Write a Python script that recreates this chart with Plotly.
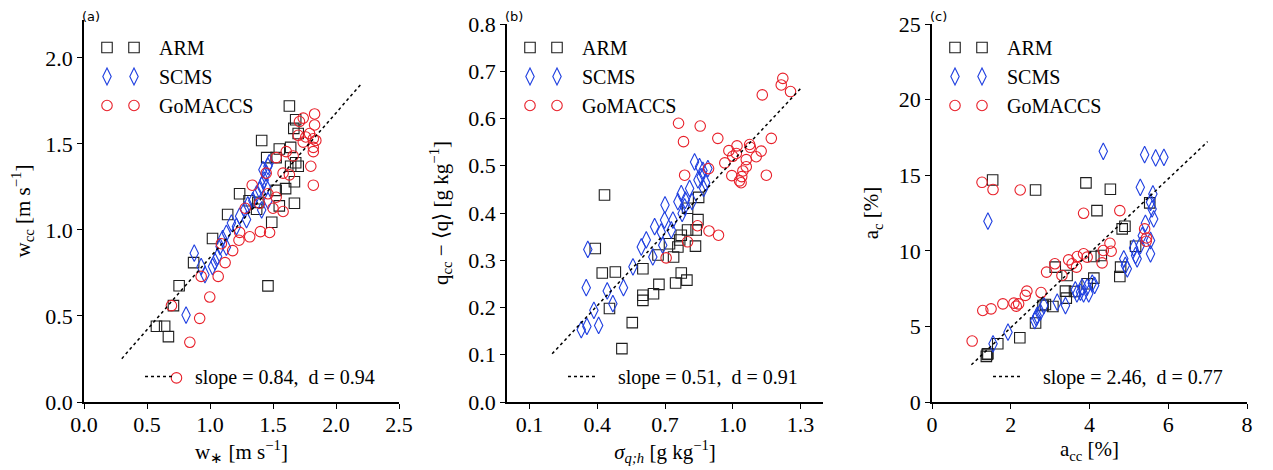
import plotly.graph_objects as go

# ---------------- Panel (a) data ----------------
a_arm_x = [1.63, 1.68, 1.665, 1.70, 1.41, 1.64, 1.55, 1.45, 1.525, 1.68, 1.70, 1.64, 1.235, 1.67, 1.60,
           1.525, 1.31, 1.38, 1.67, 1.55, 1.37, 1.14, 1.49, 1.02, 0.87, 1.46, 0.755, 0.71, 0.575, 0.64, 0.67]
a_arm_y = [1.72, 1.64, 1.59, 1.56, 1.52, 1.48, 1.47, 1.42, 1.42, 1.39, 1.37, 1.37, 1.21, 1.28, 1.24,
           1.23, 1.17, 1.16, 1.155, 1.14, 1.12, 1.09, 1.045, 0.95, 0.81, 0.675, 0.676, 0.56, 0.44, 0.44, 0.38]
a_scms_x = [0.875, 0.81, 0.93, 0.96, 1.02, 1.04, 1.08, 1.10, 1.13, 1.17, 1.21, 1.235, 1.275, 1.30, 1.34,
            1.37, 1.394, 1.41, 1.43, 1.446, 1.46, 1.47, 1.42, 1.446, 1.41, 1.46, 1.29, 1.13, 1.06]
a_scms_y = [0.865, 0.505, 0.787, 0.74, 0.787, 0.816, 0.903, 0.95, 0.98, 1.04, 1.02, 1.08, 1.116, 1.145, 1.17,
            1.21, 1.23, 1.26, 1.29, 1.33, 1.37, 1.39, 1.35, 1.25, 1.116, 1.17, 1.06, 0.90, 0.845]
a_gom_x = [1.83, 1.74, 1.71, 1.83, 1.79, 1.76, 1.70, 1.82, 1.84, 1.74, 1.82, 1.82, 1.605, 1.525, 1.80,
           1.66, 1.446, 1.58, 1.63, 1.82, 1.335, 1.525, 1.46, 1.28, 1.50, 1.58, 1.393, 1.473, 1.40, 1.315,
           1.235, 1.23, 1.09, 1.18, 1.12, 1.065, 0.93, 0.998, 0.694, 0.918, 0.84, 0.734]
a_gom_y = [1.674, 1.65, 1.63, 1.61, 1.56, 1.54, 1.55, 1.53, 1.52, 1.51, 1.48, 1.455, 1.455, 1.42, 1.37,
           1.43, 1.33, 1.33, 1.32, 1.26, 1.26, 1.19, 1.21, 1.126, 1.126, 1.107, 1.155, 0.985, 0.99, 0.96,
           0.986, 0.94, 0.92, 0.88, 0.81, 0.73, 0.73, 0.61, 0.56, 0.486, 0.347, 0.14]

# ---------------- Panel (b) data ----------------
b_arm_x = [0.432, 0.391, 0.422, 0.48, 0.602, 0.454, 0.555, 0.509, 0.602, 0.602, 0.649, 0.673, 0.669, 0.738,
           0.72, 0.757, 0.772, 0.80, 0.838, 0.835, 0.846, 0.747, 0.772, 0.797, 0.80, 0.849, 0.765]
b_arm_y = [0.438, 0.325, 0.273, 0.275, 0.282, 0.198, 0.168, 0.113, 0.226, 0.215, 0.229, 0.249, 0.311, 0.307,
           0.335, 0.328, 0.353, 0.364, 0.364, 0.33, 0.386, 0.252, 0.273, 0.258, 0.41, 0.433, 0.343]
b_scms_x = [0.831, 0.853, 0.89, 0.86, 0.88, 0.846, 0.809, 0.772, 0.871, 0.70, 0.757, 0.79, 0.82, 0.776, 0.735,
            0.698, 0.654, 0.683, 0.728, 0.617, 0.595, 0.69, 0.646, 0.558, 0.358, 0.351, 0.444, 0.516, 0.469,
            0.385, 0.406, 0.354, 0.329, 0.787, 0.868]
b_scms_y = [0.508, 0.498, 0.494, 0.477, 0.464, 0.47, 0.452, 0.441, 0.452, 0.417, 0.424, 0.427, 0.424, 0.399,
            0.385, 0.385, 0.371, 0.36, 0.364, 0.343, 0.328, 0.332, 0.307, 0.286, 0.323, 0.242, 0.235, 0.242,
            0.208, 0.194, 0.162, 0.16, 0.153, 0.413, 0.49]
b_gom_x = [1.222, 1.215, 1.256, 1.131, 0.76, 0.856, 0.782, 0.934, 1.171, 1.019, 1.075, 1.078, 0.983, 1.126,
           1.016, 1.00, 1.06, 1.104, 0.965, 1.06, 1.045, 0.996, 1.04, 1.03, 1.037, 1.149, 0.787, 0.893, 0.844,
           0.895, 0.937, 0.80, 0.705]
b_gom_y = [0.685, 0.671, 0.657, 0.65, 0.59, 0.584, 0.551, 0.558, 0.558, 0.542, 0.545, 0.539, 0.532, 0.531,
           0.526, 0.52, 0.513, 0.519, 0.506, 0.498, 0.489, 0.479, 0.477, 0.468, 0.464, 0.48, 0.48, 0.494,
           0.373, 0.362, 0.353, 0.339, 0.305]

# ---------------- Panel (c) data ----------------
c_arm_x = [1.54, 2.63, 3.91, 4.53, 4.19, 5.53, 4.90, 4.83, 5.17, 4.30, 4.11, 3.13, 3.43, 4.79, 4.77, 4.11,
           3.94, 3.39, 3.62, 3.41, 3.07, 2.88, 2.82, 2.63, 2.23, 1.67, 1.40, 1.38, 1.42]
c_arm_y = [14.68, 14.02, 14.49, 14.07, 12.66, 13.17, 11.62, 11.45, 10.30, 9.69, 9.62, 8.92, 8.37, 8.92, 8.30,
           8.19, 7.82, 7.33, 7.31, 6.87, 6.32, 6.45, 6.38, 5.22, 4.25, 3.85, 3.15, 3.02, 3.19]
c_scms_x = [4.35, 5.40, 5.68, 5.89, 5.29, 5.61, 5.55, 5.59, 1.42, 5.63, 5.42, 5.34, 5.55, 5.29, 5.55, 5.12,
            5.17, 5.21, 4.87, 4.91, 4.96, 4.13, 4.07, 3.94, 3.81, 3.77, 3.68, 3.64, 3.85, 3.98, 3.39, 3.18,
            2.84, 2.75, 2.67, 2.61, 2.65, 1.93, 1.55]
c_scms_y = [16.58, 16.36, 16.14, 16.18, 14.2, 13.76, 13.21, 12.77, 11.96, 12.11, 11.82, 11.0, 10.68, 10.35,
            9.80, 10.19, 9.69, 9.47, 9.47, 9.03, 8.81, 7.71, 7.86, 7.60, 7.60, 7.27, 7.16, 7.42, 7.16, 7.16,
            6.38, 6.60, 6.38, 5.94, 5.72, 5.39, 5.57, 4.62, 3.85]
c_gom_x = [1.27, 1.55, 2.24, 3.85, 4.77, 5.40, 5.45, 5.44, 4.52, 4.55, 4.35, 4.32, 3.85, 3.69, 3.47, 3.56,
           3.67, 3.94, 3.12, 2.91, 3.30, 2.41, 2.37, 2.77, 2.08, 2.14, 2.20, 1.80, 1.50, 1.29, 1.02]
c_gom_y = [14.53, 14.05, 14.02, 12.48, 12.66, 11.45, 10.85, 10.63, 10.50, 9.97, 10.02, 9.20, 9.80, 9.62, 9.40,
           9.14, 8.92, 9.58, 9.14, 8.59, 8.37, 7.33, 7.05, 7.24, 6.54, 6.34, 6.49, 6.49, 6.16, 6.05, 4.03]

# ---------------- Fit lines (y = slope * x) ----------------
fit_slopes = [0.84, 0.51, 2.46]
fit_d = [0.94, 0.91, 0.77]
fit_x_ranges = [[0.3, 2.2], [0.2, 1.3], [1.0, 7.0]]

series_names = ["ARM", "SCMS", "GoMACCS"]
panel_labels = ["(a)", "(b)", "(c)"]

x_titles = ["w<sub>∗</sub> [m s<sup>−1</sup>]",
            "<i>σ<sub>q;h</sub></i> [g kg<sup>−1</sup>]",
            "a<sub>cc</sub> [%]"]
y_titles = ["w<sub>cc</sub> [m s<sup>−1</sup>]",
            "q<sub>cc</sub> − ⟨q⟩ [g kg<sup>−1</sup>]",
            "a<sub>c</sub> [%]"]
x_tickvals = [[0.0, 0.5, 1.0, 1.5, 2.0, 2.5], [0.1, 0.4, 0.7, 1.0, 1.3], [0, 2, 4, 6, 8]]
x_ticktext = [["0.0", "0.5", "1.0", "1.5", "2.0", "2.5"], ["0.1", "0.4", "0.7", "1.0", "1.3"],
              ["0", "2", "4", "6", "8"]]
y_tickvals = [[0.0, 0.5, 1.0, 1.5, 2.0], [0.0, 0.1, 0.2, 0.3, 0.4, 0.5, 0.6, 0.7, 0.8], [0, 5, 10, 15, 20, 25]]
y_ticktext = [["0.0", "0.5", "1.0", "1.5", "2.0"],
              ["0.0", "0.1", "0.2", "0.3", "0.4", "0.5", "0.6", "0.7", "0.8"],
              ["0", "5", "10", "15", "20", "25"]]
x_ranges = [[0, 2.5], [0, 1.4], [0, 8]]
y_ranges = [[0, 2.22], [0, 0.8], [0, 25]]

panels = [
    (a_arm_x, a_arm_y, a_scms_x, a_scms_y, a_gom_x, a_gom_y),
    (b_arm_x, b_arm_y, b_scms_x, b_scms_y, b_gom_x, b_gom_y),
    (c_arm_x, c_arm_y, c_scms_x, c_scms_y, c_gom_x, c_gom_y),
]

W, H = 1273, 470
OFF = 8  # page body margin offset (screen px)
FONT = "Liberation Serif"
NB = "\u00a0"


def fx_(px):
    return (px - OFF) / W


def fy_(py):
    return 1 - (py - OFF) / H


# screen-pixel layout of plot areas
x_px = [(84, 399), (507, 823), (932, 1247)]
y_px = [(20, 402), (24, 402), (24, 402)]
y_title_standoff = [62, 14, 14]

colors = ["#1e1e1e", "#1f3fe0", "#e8202a"]
symbols = ["square-open", "diamond-tall-open", "circle-open"]
sizes = [10.5, 12, 10.5]

fig = go.Figure()
layout = dict(width=W, height=H, margin=dict(l=0, r=0, t=0, b=0, autoexpand=False),
              paper_bgcolor="white", plot_bgcolor="white",
              font=dict(family=FONT, size=20, color="black"))

annotations = []
for i, pdata in enumerate(panels):
    ax = "" if i == 0 else str(i + 1)
    xref, yref = "x" + ax, "y" + ax
    leg_main = "legend" if i == 0 else "legend" + str(3 * i + 1)
    leg_fit = "legend" + str(3 * i + 2)
    leg_dup = "legend" + str(3 * i + 3)
    for s in range(3):
        mk = dict(symbol=symbols[s], size=sizes[s], color=colors[s],
                  line=dict(color=colors[s], width=1.1))
        fig.add_trace(go.Scatter(
            x=pdata[2 * s], y=pdata[2 * s + 1], mode="markers", name=series_names[s],
            xaxis=xref, yaxis=yref, legend=leg_main, cliponaxis=False, marker=mk))
    # second legend glyph column (matplotlib-style numpoints=2)
    for s in range(3):
        mk = dict(symbol=symbols[s], size=sizes[s], color=colors[s],
                  line=dict(color=colors[s], width=1.1))
        fig.add_trace(go.Scatter(
            x=[None], y=[None], mode="markers", name=NB,
            xaxis=xref, yaxis=yref, legend=leg_dup, marker=mk, hoverinfo="skip"))
    fxs = fit_x_ranges[i]
    fys = [fit_slopes[i] * v for v in fxs]
    fig.add_trace(go.Scatter(
        x=fxs, y=fys, mode="lines", xaxis=xref, yaxis=yref, legend=leg_fit,
        name=NB * 3 + "slope = %.2f,%s d = %.2f" % (fit_slopes[i], NB, fit_d[i]),
        line=dict(color="black", width=1.5, dash="dot")))

    x0, x1 = x_px[i]
    y0, y1 = y_px[i]
    layout["xaxis" + ax] = dict(
        domain=[fx_(x0), fx_(x1)], range=x_ranges[i], anchor=yref,
        tickvals=x_tickvals[i], ticktext=x_ticktext[i],
        showline=True, linecolor="black", linewidth=1.5, mirror=False,
        ticks="outside", ticklen=5, tickwidth=1.3, tickcolor="black",
        showgrid=False, zeroline=False, tickfont=dict(size=22), ticklabelstandoff=-3,
        title=dict(text=x_titles[i], font=dict(size=21), standoff=2))
    layout["yaxis" + ax] = dict(
        domain=[fy_(y1), fy_(y0)], range=y_ranges[i], anchor=xref,
        tickvals=y_tickvals[i], ticktext=y_ticktext[i],
        showline=True, linecolor="black", linewidth=1.5, mirror=False,
        ticks="outside", ticklen=5, tickwidth=1.3, tickcolor="black",
        showgrid=False, zeroline=False, tickfont=dict(size=22),
        title=dict(text=y_titles[i], font=dict(size=21), standoff=y_title_standoff[i]))
    leg_common = dict(yanchor="top", xanchor="left", bgcolor="rgba(0,0,0,0)",
                      borderwidth=0, font=dict(size=20))
    layout[leg_main] = dict(x=fx_(x0 + 25), y=fy_(28), itemwidth=40, **leg_common)
    layout[leg_dup] = dict(x=fx_(x0 - 2), y=fy_(28), itemwidth=40, **leg_common)
    layout[leg_fit] = dict(x=fx_(x0 + 56), y=fy_(357), **leg_common)
    annotations.append(dict(
        text=panel_labels[i], xref="paper", yref="paper",
        x=fx_(x0 - 3), y=1.0, xanchor="left", yanchor="top", borderpad=0,
        showarrow=False, font=dict(family="DejaVu Sans", size=13, color="black")))

layout["annotations"] = annotations
layout["showlegend"] = True
fig.update_layout(**layout)
fig.write_html("out.html")
